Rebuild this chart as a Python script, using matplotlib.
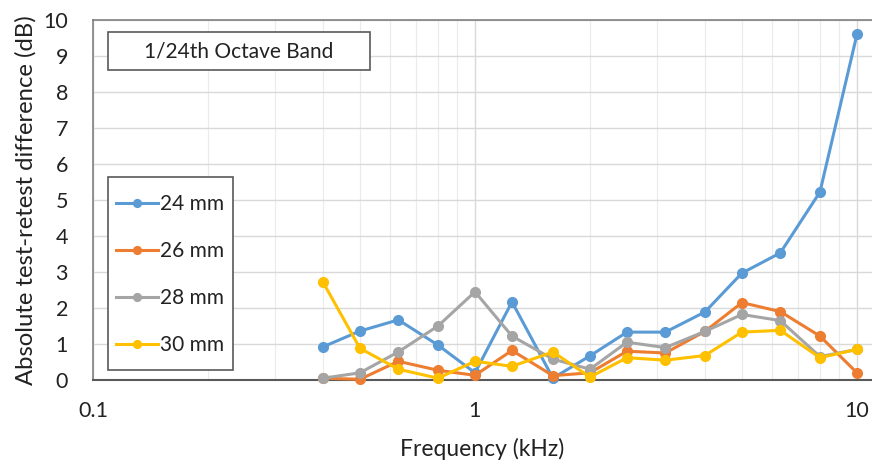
import matplotlib
matplotlib.use("Agg")
import matplotlib.pyplot as plt
from matplotlib.patches import Rectangle
from matplotlib.ticker import FixedLocator, LogLocator, NullFormatter

plt.rcParams['font.family'] = ['Lato', 'DejaVu Sans']

freq = [0.4, 0.5, 0.63, 0.8, 1.0, 1.25, 1.6, 2.0, 2.5, 3.15, 4.0, 5.0, 6.3, 8.0, 10.0]
mm24 = [0.92, 1.36, 1.67, 0.97, 0.20, 2.17, 0.05, 0.67, 1.33, 1.33, 1.89, 2.97, 3.53, 5.22, 9.60]
mm26 = [0.05, 0.02, 0.52, 0.27, 0.13, 0.82, 0.12, 0.20, 0.80, 0.75, 1.35, 2.15, 1.90, 1.22, 0.20]
mm28 = [0.05, 0.20, 0.78, 1.50, 2.45, 1.22, 0.58, 0.30, 1.05, 0.90, 1.35, 1.82, 1.65, 0.65, 0.85]
mm30 = [2.72, 0.88, 0.30, 0.05, 0.52, 0.38, 0.78, 0.08, 0.62, 0.55, 0.68, 1.33, 1.38, 0.62, 0.85]

series = [("24 mm", mm24, "#5B9BD5"), ("26 mm", mm26, "#ED7D31"),
          ("28 mm", mm28, "#A5A5A5"), ("30 mm", mm30, "#FFC000")]

W, H = 872, 463
fig = plt.figure(figsize=(8.72, 4.63), dpi=100)
ax = fig.add_axes([93/W, 1 - 380/H, (W-93)/W, 360/H])

for name, vals, col in series:
    ax.plot(freq, vals, color=col, lw=2.2, marker='o', ms=7, label=name, clip_on=False, zorder=3)

ax.set_xscale('log')
ax.set_xlim(0.1, 10.95)
ax.set_ylim(0, 10)
ax.set_yticks(range(0, 11))
ax.xaxis.set_major_locator(FixedLocator([0.1, 1, 10]))
ax.set_xticklabels(['0.1', '1', '10'])
ax.xaxis.set_minor_locator(LogLocator(base=10, subs=range(2, 10)))
ax.xaxis.set_minor_formatter(NullFormatter())
ax.grid(True, which='major', color='#D9D9D9', lw=1)
ax.grid(True, which='minor', axis='x', color='#EBEBEB', lw=0.8)
ax.set_axisbelow(True)
ax.tick_params(which='both', length=0, labelsize=15.5, colors='#222222')
ax.tick_params(axis='x', pad=15)
ax.tick_params(axis='y', pad=18)

for s in ['left', 'top']:
    ax.spines[s].set_color('#808080')
    ax.spines[s].set_linewidth(1.2)
ax.spines['bottom'].set_color('#595959')
ax.spines['bottom'].set_linewidth(1.5)
ax.spines['right'].set_visible(False)

ax.set_xlabel('Frequency (kHz)', fontsize=16.5, color='#222222', labelpad=12)
ax.set_ylabel('Absolute test-retest difference (dB)', fontsize=17.2, color='#222222', labelpad=5)

def px2ax(x, y):
    return (x - 93) / (W - 93), 1 - (y - 20) / 360

# title box
x0, y0 = px2ax(108, 70)
x1, y1 = px2ax(370, 32)
ax.add_patch(Rectangle((x0, y0), x1 - x0, y1 - y0, transform=ax.transAxes,
                       fc='white', ec='#595959', lw=1.2, zorder=5))
cx, cy = px2ax(239, 52)
ax.text(cx, cy, '1/24th Octave Band', transform=ax.transAxes,
        ha='center', va='center', fontsize=15, color='#222222', zorder=6)

# legend box
x0, y0 = px2ax(108, 370)
x1, y1 = px2ax(233, 177)
ax.add_patch(Rectangle((x0, y0), x1 - x0, y1 - y0, transform=ax.transAxes,
                       fc='white', ec='#595959', lw=1.2, zorder=5))
lx, ly = px2ax(116, 194)
leg = ax.legend(loc='upper left', bbox_to_anchor=(lx, ly), borderaxespad=0,
                fontsize=15, frameon=False,
                handlelength=2.0, handletextpad=0.1, labelspacing=1.3,
                borderpad=0.0, markerscale=0.8)
leg.set_zorder(7)
for t in leg.get_texts():
    t.set_color('#222222')

fig.savefig('out.png', dpi=100)
